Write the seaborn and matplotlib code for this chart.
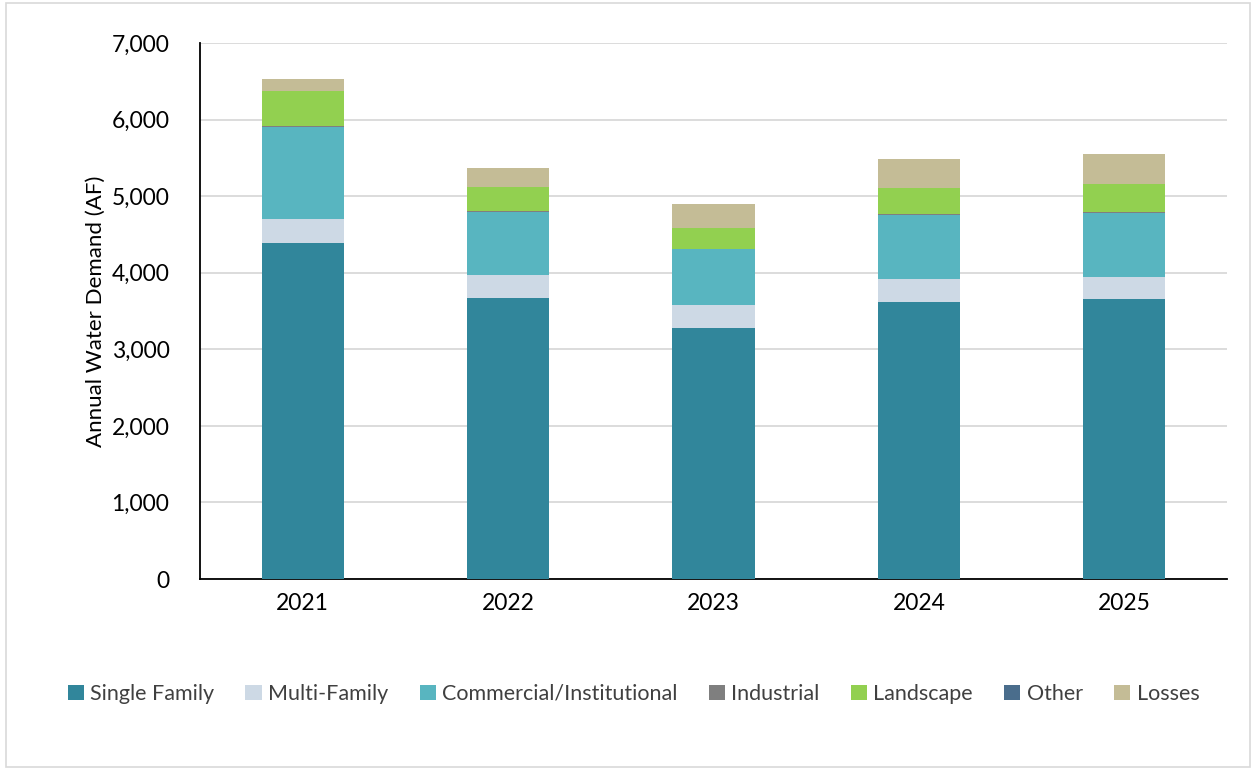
import matplotlib
matplotlib.use("Agg")
import matplotlib.pyplot as plt
from matplotlib.patches import Patch, Rectangle
import seaborn as sns
import pandas as pd
import numpy as np

years = ["2021", "2022", "2023", "2024", "2025"]
categories = ["Single Family", "Multi-Family", "Commercial/Institutional",
              "Industrial", "Landscape", "Other", "Losses"]
single_family = [4390, 3675, 3280, 3620, 3655]
multi_family = [310, 295, 300, 300, 285]
commercial = [1205, 825, 725, 835, 845]
industrial = [15, 10, 8, 10, 10]
landscape = [450, 310, 275, 345, 370]
other = [0, 0, 0, 0, 0]
losses = [160, 252, 310, 380, 385]

series = [single_family, multi_family, commercial, industrial, landscape, other, losses]
colors = ["#31869B", "#CDD9E5", "#58B5C0", "#7F7F7F", "#92D050", "#4A6D8C", "#C4BC96"]

sns.set_theme(style="white")
plt.rcParams["font.family"] = ["Lato", "DejaVu Sans"]

fig = plt.figure(figsize=(12.52, 7.69), dpi=100)
ax = fig.add_axes([200/1252, 1-579/769, (1227-200)/1252, (579-43)/769])

cum = np.cumsum(np.array(series), axis=0)
for i in range(len(series) - 1, -1, -1):
    df = pd.DataFrame({"year": years, "value": cum[i]})
    sns.barplot(data=df, x="year", y="value", color=colors[i], width=0.4,
                saturation=1, ax=ax, zorder=3, linewidth=0)

ax.set_ylim(0, 7000)
ax.set_xlim(-0.5, 4.5)
ax.set_yticks(range(0, 7001, 1000))
ax.set_yticklabels([f"{v:,}" for v in range(0, 7001, 1000)], fontsize=16.5, color="black")
ax.tick_params(axis="x", labelsize=16.5, length=0, pad=10, labelcolor="black")
ax.tick_params(axis="y", length=0, pad=22, labelcolor="black")
ax.yaxis.grid(True, color="#D9D9D9", linewidth=1.3, zorder=0)
ax.set_axisbelow(True)
ax.set_xlabel("")
ax.set_ylabel("Annual Water Demand (AF)", fontsize=16, labelpad=4, color="black")
for s in ["top", "right"]:
    ax.spines[s].set_visible(False)
for s in ["left", "bottom"]:
    ax.spines[s].set_color("black")
    ax.spines[s].set_linewidth(1.3)

handles = [Patch(facecolor=c, edgecolor="none", label=l) for c, l in zip(colors, categories)]
leg = fig.legend(handles=handles, loc="center", bbox_to_anchor=(0.506, 1-694/769), ncol=7,
                 frameon=False, fontsize=15.5, handlelength=0.75, handleheight=0.75,
                 handletextpad=0.3, columnspacing=1.45)
for t in leg.get_texts():
    t.set_color("#404040")

fig.patches.append(Rectangle((6/1252, 0.002), 1 - 8/1252, 1 - 3/769 - 0.002,
                             transform=fig.transFigure, fill=False,
                             edgecolor="#D9D9D9", linewidth=1.2))

fig.savefig("out.png", dpi=100)
